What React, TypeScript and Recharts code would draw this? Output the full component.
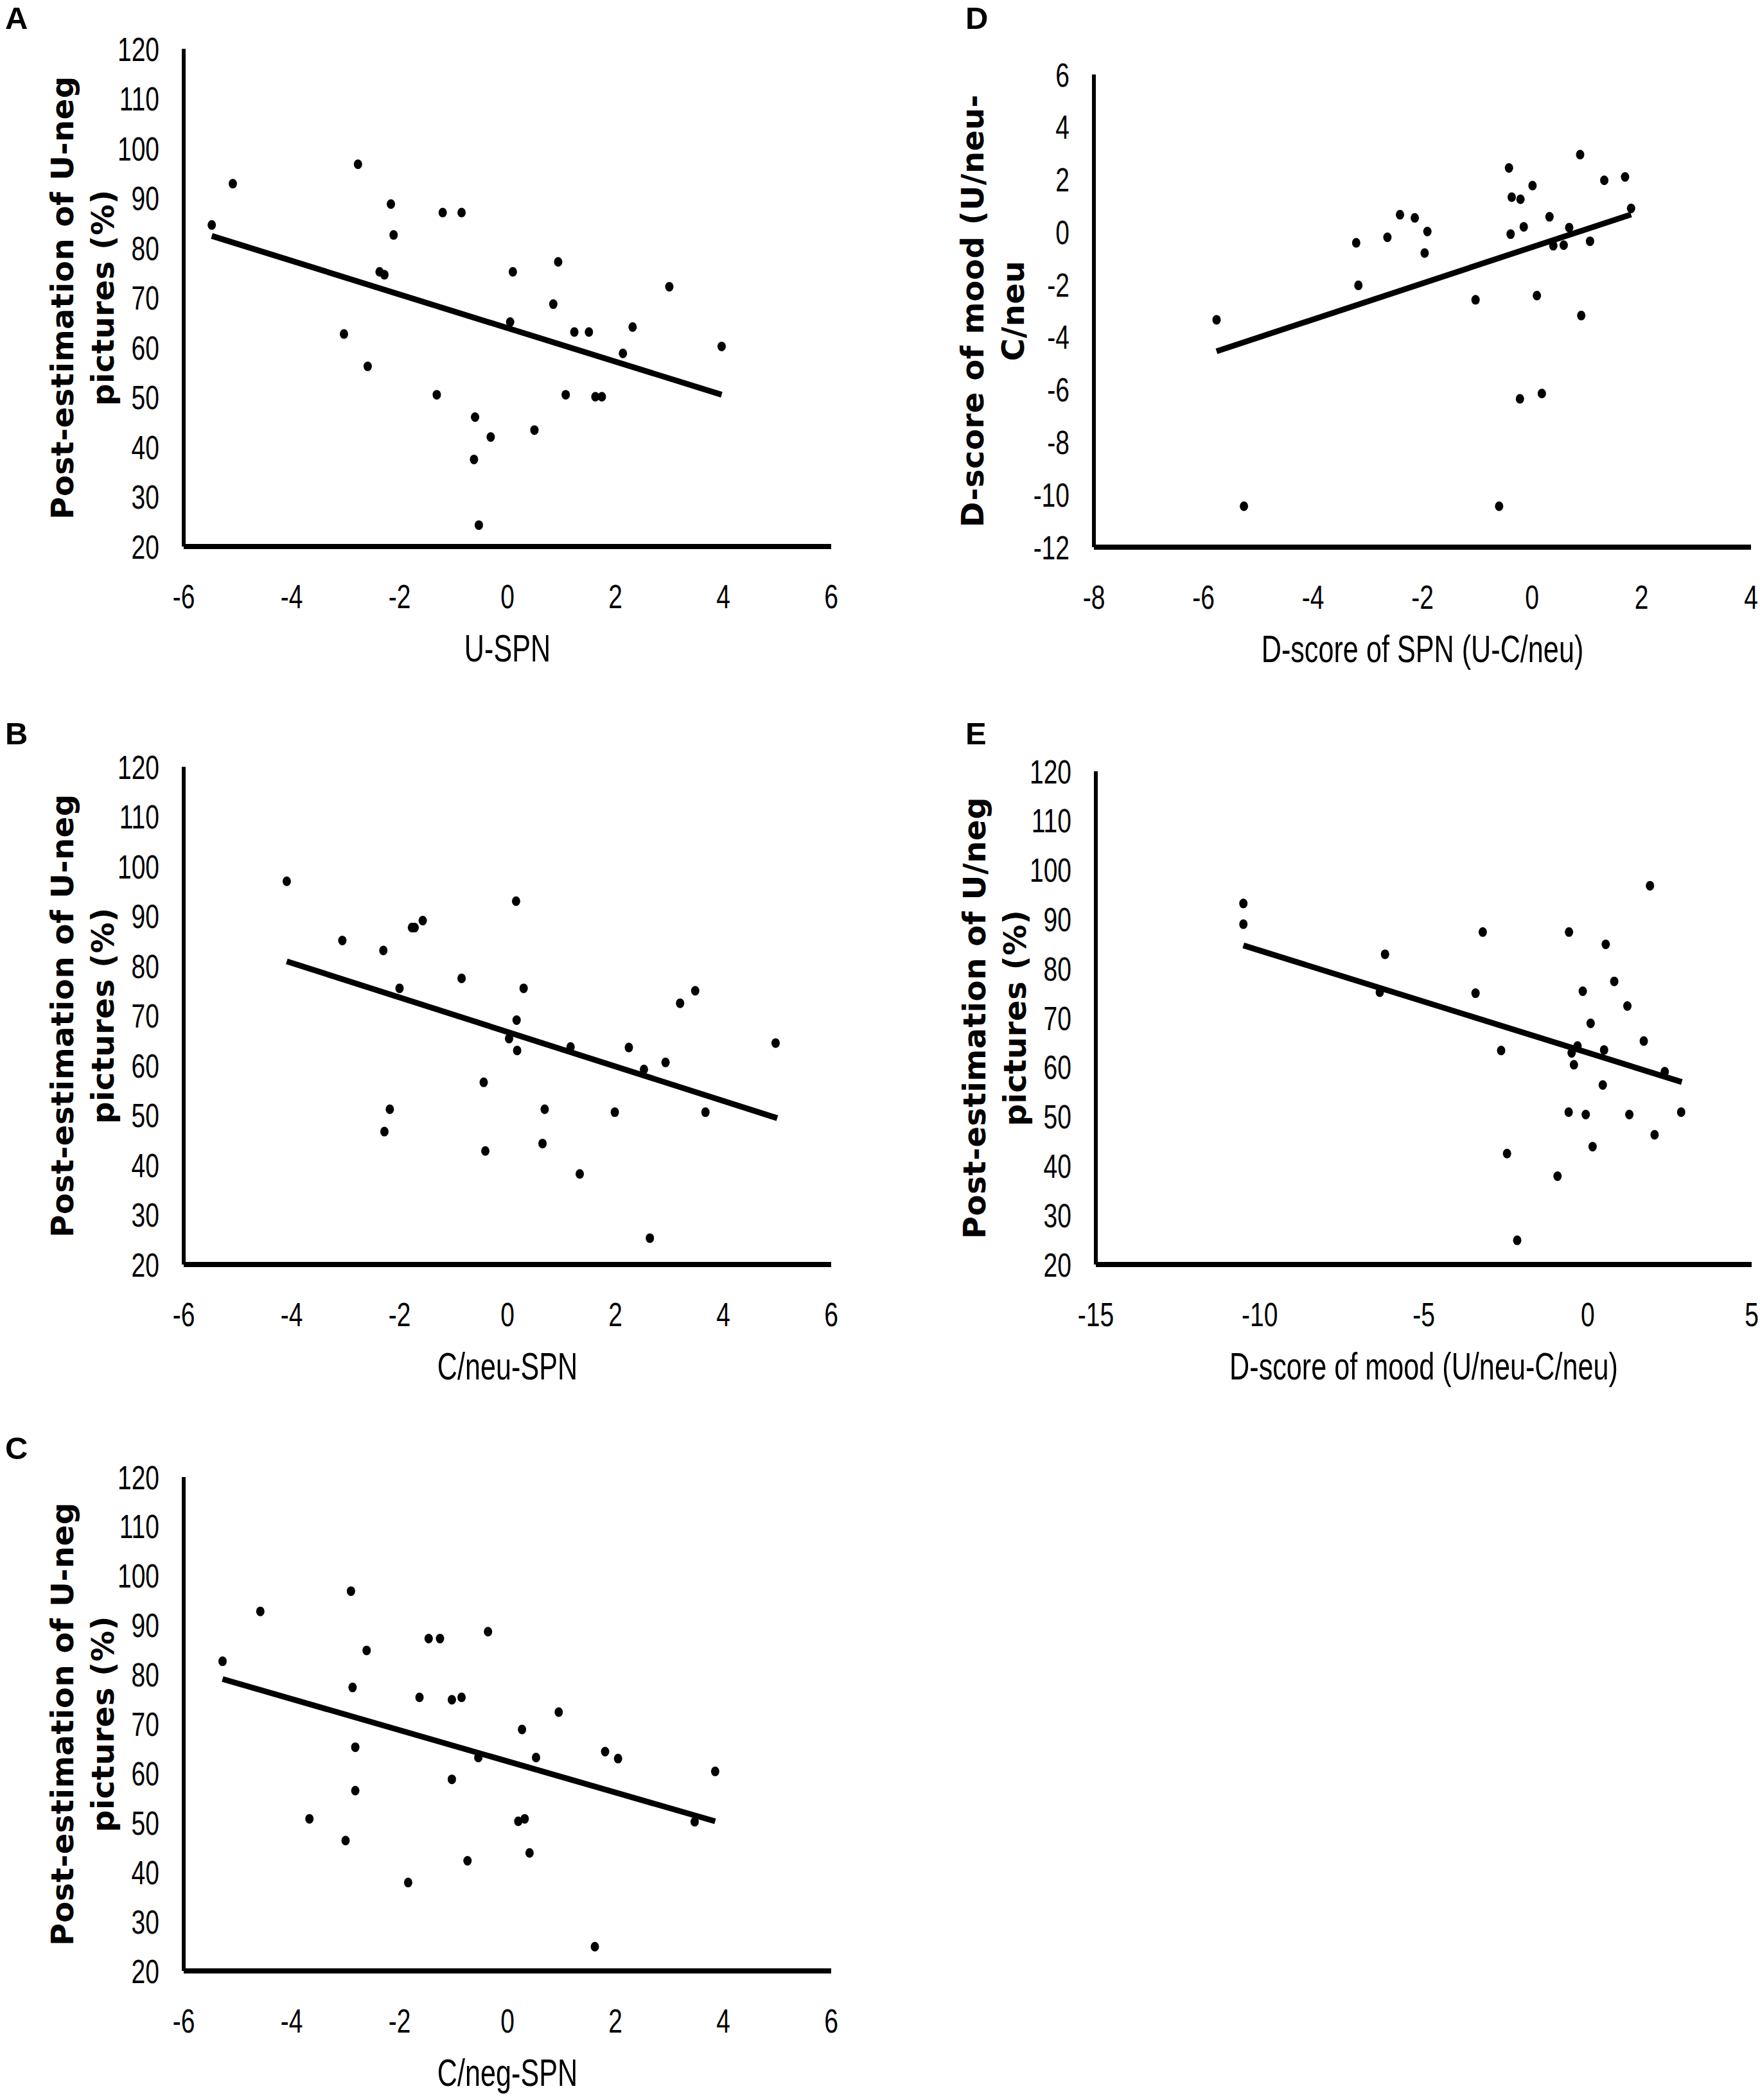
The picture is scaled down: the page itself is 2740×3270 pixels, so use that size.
import React from 'react';
import { ScatterChart, Scatter, XAxis, YAxis } from 'recharts';

// ---------- data ----------
const aX = [-5.48, -5.09, -2.77, -2.16, -2.11, -2.37, -2.28, -3.03, -2.59, -1.2, -0.85, -1.31, -0.6, -0.31, -0.62, -0.53, 0.1, 0.05, 0.94, 0.85, 0.5, 1.08, 1.24, 1.51, 1.63, 1.75, 2.14, 2.32, 3.0, 3.97];
const aY = [84.6, 92.9, 96.8, 88.8, 82.6, 75.2, 74.6, 62.7, 56.2, 87.1, 87.1, 50.5, 46.0, 42.0, 37.5, 24.3, 75.2, 65.1, 77.2, 68.7, 43.4, 50.5, 63.1, 63.1, 50.1, 50.1, 58.8, 64.1, 72.2, 60.2];
const aTrendX = [-5.48, 3.97];
const aTrendY = [82.4, 50.5];

const bX = [-4.09, -3.06, -2.3, -1.77, -1.72, -1.57, -2.0, -2.18, -2.28, -0.85, 0.16, 0.3, 0.17, 0.03, 0.18, -0.44, -0.41, 0.69, 0.65, 1.17, 1.34, 1.99, 2.25, 2.53, 2.64, 2.93, 3.2, 3.48, 3.67, 4.97];
const bY = [97.0, 85.1, 83.1, 87.7, 87.7, 89.1, 75.5, 51.2, 46.7, 77.5, 93.0, 75.5, 69.1, 65.4, 63.0, 56.6, 42.8, 51.2, 44.3, 63.7, 38.2, 50.6, 63.6, 59.2, 25.3, 60.6, 72.5, 75.0, 50.6, 64.5];
const bTrendX = [-4.09, 5.0];
const bTrendY = [80.9, 49.4];

const cX = [-5.28, -4.58, -2.9, -2.61, -2.87, -2.82, -2.82, -3.67, -3.0, -1.84, -1.46, -1.25, -0.36, -1.63, -1.03, -0.85, -1.03, -0.54, -0.74, 0.27, 0.53, 0.2, 0.32, 0.41, 0.95, 1.62, 1.81, 2.05, 3.47, 3.85];
const cY = [82.7, 92.8, 96.9, 84.9, 77.4, 65.3, 56.5, 50.8, 46.4, 37.9, 87.3, 87.3, 88.7, 75.4, 74.9, 75.4, 58.8, 63.2, 42.3, 68.9, 63.2, 50.3, 50.8, 43.9, 72.4, 24.9, 64.4, 63.0, 50.2, 60.4];
const cTrendX = [-5.28, 3.85];
const cTrendY = [79.1, 50.3];

const dX = [-5.76, -5.26, -3.21, -3.17, -2.64, -2.41, -2.14, -1.91, -1.96, -1.03, -0.42, -0.37, -0.21, 0.01, -0.39, -0.15, -0.6, -0.22, 0.18, 0.09, 0.32, 0.39, 0.58, 0.68, 0.88, 0.9, 1.06, 1.32, 1.7, 1.81];
const dY = [-3.34, -10.44, -0.41, -2.03, -0.2, 0.66, 0.54, 0.02, -0.8, -2.58, 2.44, 1.33, 1.25, 1.77, -0.08, 0.2, -10.44, -6.35, -6.15, -2.42, 0.58, -0.52, -0.5, 0.17, 2.95, -3.18, -0.35, 1.97, 2.1, 0.9];
const dTrendX = [-5.76, 1.81];
const dTrendY = [-4.54, 0.67];

const eX = [-10.5, -10.5, -6.18, -6.34, -3.2, -3.42, -2.64, -2.46, -2.15, -0.92, -0.57, 0.55, 0.81, -0.15, 1.21, 0.09, 1.71, -0.31, -0.49, 0.5, -0.42, 2.35, -0.58, -0.06, 1.27, 2.85, 2.04, 0.15, 0.46, 1.9];
const eY = [93.2, 89.0, 82.9, 75.2, 87.4, 75.0, 63.4, 42.5, 24.9, 37.9, 87.4, 84.9, 77.4, 75.4, 72.4, 68.9, 65.3, 64.3, 62.9, 63.5, 60.5, 59.1, 50.9, 50.4, 50.4, 50.9, 46.3, 43.9, 56.4, 96.8];
const eTrendX = [-10.5, 2.87];
const eTrendY = [84.7, 57.0];

const xTicksSpn = [-6, -4, -2, 0, 2, 4, 6];
const yTicksPct = [20, 30, 40, 50, 60, 70, 80, 90, 100, 110, 120];
const xTicksD = [-8, -6, -4, -2, 0, 2, 4];
const yTicksD = [-12, -10, -8, -6, -4, -2, 0, 2, 4, 6];
const xTicksE = [-15, -10, -5, 0, 5];

const zip = (xs: number[], ys: number[]) => xs.map((x, i) => ({ x, y: ys[i] }));

// ---------- styling ----------
const NARROW = "'Liberation Sans', Arial, sans-serif";
const WIDE_BOLD = "'DejaVu Sans', Verdana, sans-serif";
const Y_AXIS_W = 280;
const M_TOP = 30;
const M_RIGHT = 30;
const X_AXIS_H = 230;

const XTick = (props: any) => {
  const { x, y, payload } = props;
  return (
    <g transform={`translate(${x},${y})`}>
      <text x={0} y={96} textAnchor="middle" fontFamily={NARROW} fontSize={52} fill="#000" transform="scale(0.75,1)">
        {payload.value}
      </text>
    </g>
  );
};

const YTick = (props: any) => {
  const { x, y, payload } = props;
  return (
    <g transform={`translate(${x - 38},${y})`}>
      <text x={0} y={18.5} textAnchor="end" fontFamily={NARROW} fontSize={52} fill="#000" transform="scale(0.75,1)">
        {payload.value}
      </text>
    </g>
  );
};

const Dot = (props: any) => {
  const { cx, cy } = props;
  if (cx == null || cy == null) return <g />;
  return <ellipse cx={cx} cy={cy} rx={6.5} ry={7.5} fill="#000" />;
};

const NoShape = () => <g />;

type PanelProps = {
  letter: string;
  letterLeft: number;
  letterTop: number;
  plotLeft: number;
  plotTop: number;
  plotW: number;
  plotH: number;
  xDomain: [number, number];
  xTicks: number[];
  yDomain: [number, number];
  yTicks: number[];
  points: { x: number; y: number }[];
  trend: { x: number; y: number }[];
  yTitle: [string, string];
  xTitle: string;
};

const Panel = (p: PanelProps) => {
  const width = Y_AXIS_W + p.plotW + M_RIGHT;
  const height = M_TOP + p.plotH + X_AXIS_H;
  const cy = M_TOP + p.plotH / 2;
  const cx = Y_AXIS_W + p.plotW / 2;
  const titleStyle = {
    fontFamily: WIDE_BOLD,
    fontWeight: 'bold' as const,
    fontSize: 48,
    letterSpacing: 0.6,
  };
  const yTitle = () => (
    <g>
      <text transform={`translate(${Y_AXIS_W - 172},${cy}) rotate(-90)`} textAnchor="middle" fill="#000" style={titleStyle}>
        {p.yTitle[0]}
      </text>
      <text transform={`translate(${Y_AXIS_W - 109},${cy}) rotate(-90)`} textAnchor="middle" fill="#000" style={titleStyle}>
        {p.yTitle[1]}
      </text>
    </g>
  );
  const xTitle = () => (
    <g transform={`translate(${cx},${M_TOP + p.plotH + 179})`}>
      <text x={0} y={0} textAnchor="middle" fontFamily={NARROW} fontSize={60} fill="#000" transform="scale(0.72,1)">
        {p.xTitle}
      </text>
    </g>
  );
  return (
    <>
      <div
        style={{
          position: 'absolute',
          left: p.letterLeft,
          top: p.letterTop,
          fontFamily: NARROW,
          fontWeight: 'bold',
          fontSize: 49,
          lineHeight: '49px',
          color: '#000',
        }}
      >
        {p.letter}
      </div>
      <div style={{ position: 'absolute', left: p.plotLeft - Y_AXIS_W, top: p.plotTop - M_TOP, width, height }}>
        <ScatterChart width={width} height={height} margin={{ top: M_TOP, right: M_RIGHT, bottom: 0, left: 0 }}>
          <XAxis
            type="number"
            dataKey="x"
            domain={p.xDomain}
            ticks={p.xTicks}
            interval={0}
            height={X_AXIS_H}
            axisLine={{ stroke: '#000', strokeWidth: 8 }}
            tickLine={false}
            tickSize={0}
            tickMargin={0}
            tick={(tp: any) => <XTick {...tp} />}
            label={xTitle}
          />
          <YAxis
            type="number"
            dataKey="y"
            domain={p.yDomain}
            ticks={p.yTicks}
            interval={0}
            width={Y_AXIS_W}
            axisLine={{ stroke: '#000', strokeWidth: 6 }}
            tickLine={false}
            tickSize={0}
            tickMargin={0}
            tick={(tp: any) => <YTick {...tp} />}
            label={yTitle}
          />
          <Scatter data={p.points} fill="#000" shape={Dot} isAnimationActive={false} />
          <Scatter
            data={p.trend}
            fill="#000"
            shape={NoShape}
            line={{ stroke: '#000', strokeWidth: 9 }}
            isAnimationActive={false}
          />
        </ScatterChart>
      </div>
    </>
  );
};

export default function App() {
  return (
    <div style={{ position: 'absolute', left: 0, top: 0, width: 2740, height: 3270, background: '#fff', overflow: 'hidden' }}>
      <Panel
        letter="A"
        letterLeft={8}
        letterTop={4}
        plotLeft={286}
        plotTop={76}
        plotW={1008}
        plotH={775}
        xDomain={[-6, 6]}
        xTicks={xTicksSpn}
        yDomain={[20, 120]}
        yTicks={yTicksPct}
        points={zip(aX, aY)}
        trend={zip(aTrendX, aTrendY)}
        yTitle={['Post-estimation of U-neg', 'pictures (%)']}
        xTitle="U-SPN"
      />
      <Panel
        letter="B"
        letterLeft={8}
        letterTop={1118}
        plotLeft={286}
        plotTop={1194}
        plotW={1008}
        plotH={775}
        xDomain={[-6, 6]}
        xTicks={xTicksSpn}
        yDomain={[20, 120]}
        yTicks={yTicksPct}
        points={zip(bX, bY)}
        trend={zip(bTrendX, bTrendY)}
        yTitle={['Post-estimation of U-neg', 'pictures (%)']}
        xTitle="C/neu-SPN"
      />
      <Panel
        letter="C"
        letterLeft={8}
        letterTop={2231}
        plotLeft={286}
        plotTop={2300}
        plotW={1008}
        plotH={769}
        xDomain={[-6, 6]}
        xTicks={xTicksSpn}
        yDomain={[20, 120]}
        yTicks={yTicksPct}
        points={zip(cX, cY)}
        trend={zip(cTrendX, cTrendY)}
        yTitle={['Post-estimation of U-neg', 'pictures (%)']}
        xTitle="C/neg-SPN"
      />
      <Panel
        letter="D"
        letterLeft={1503}
        letterTop={4}
        plotLeft={1703}
        plotTop={116}
        plotW={1023}
        plotH={736}
        xDomain={[-8, 4]}
        xTicks={xTicksD}
        yDomain={[-12, 6]}
        yTicks={yTicksD}
        points={zip(dX, dY)}
        trend={zip(dTrendX, dTrendY)}
        yTitle={['D-score of mood (U/neu-', 'C/neu']}
        xTitle="D-score of SPN (U-C/neu)"
      />
      <Panel
        letter="E"
        letterLeft={1503}
        letterTop={1118}
        plotLeft={1706}
        plotTop={1201}
        plotW={1021}
        plotH={768}
        xDomain={[-15, 5]}
        xTicks={xTicksE}
        yDomain={[20, 120]}
        yTicks={yTicksPct}
        points={zip(eX, eY)}
        trend={zip(eTrendX, eTrendY)}
        yTitle={['Post-estimation of U/neg', 'pictures (%)']}
        xTitle="D-score of mood (U/neu-C/neu)"
      />
    </div>
  );
}
